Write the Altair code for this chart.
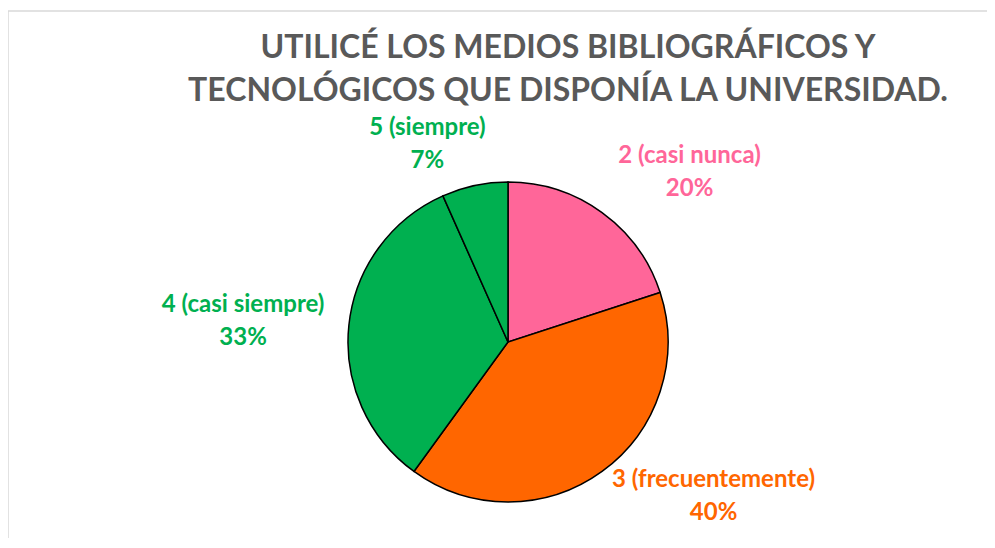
import math
import altair as alt
import pandas as pd

categories = ["2 (casi nunca)", "3 (frecuentemente)", "4 (casi siempre)", "5 (siempre)"]
counts = [3, 6, 5, 1]
percent_labels = ["20%", "40%", "33%", "7%"]
colors = ["#FF6699", "#FF6600", "#00B050", "#00B050"]
title_lines = ["UTILICÉ LOS MEDIOS BIBLIOGRÁFICOS Y", "TECNOLÓGICOS QUE DISPONÍA LA UNIVERSIDAD."]

total = sum(counts)
df = pd.DataFrame({
    "cat": categories,
    "count": counts,
    "pct": percent_labels,
    "idx": list(range(len(categories))),
})

W, H = 979, 530
CX, CY, R = 500, 334, 160
FONT = "Lato"

color_scale = alt.Scale(domain=categories, range=colors)

base = alt.Chart(df)

pie = base.mark_arc(outerRadius=R, stroke="black", strokeWidth=1.5).encode(
    theta=alt.Theta("count:Q", stack=True),
    color=alt.Color("cat:N", scale=color_scale, legend=None),
    order=alt.Order("idx:Q"),
    x=alt.value(CX),
    y=alt.value(CY),
)

# per-label nudges (Excel labels were moved by hand)
offsets = [(64, -24), (88, -24), (-66, -16), (-39, -18)]

label_layers = []
for i, (ddx, ddy) in enumerate(offsets):
    lyr = (
        base.transform_window(cum="sum(count)", sort=[alt.SortField("idx")])
        .transform_calculate(
            mid="datum.cum - datum.count / 2",
            label="[datum.cat, datum.pct]",
        )
        .transform_filter(alt.datum.idx == i)
        .mark_text(
            font=FONT, fontSize=24, fontWeight="bold", align="center",
            baseline="middle", lineHeight=33, dx=ddx, dy=ddy,
        )
        .encode(
            theta=alt.Theta("mid:Q", scale=alt.Scale(domain=[0, total], range=[0, 2 * math.pi]), stack=None),
            radius=alt.value(200),
            text=alt.Text("label:N"),
            color=alt.Color("cat:N", scale=color_scale, legend=None),
            x=alt.value(CX),
            y=alt.value(CY),
        )
    )
    label_layers.append(lyr)

title_df = pd.DataFrame({"t": ["\n".join(title_lines)]})
title = alt.Chart(title_df).mark_text(
    font=FONT, fontSize=32, fontWeight="bold", color="#595959",
    align="center", baseline="top", lineHeight=43, lineBreak="\n",
).encode(text="t:N", x=alt.value(560), y=alt.value(25))

frame_top = alt.Chart(title_df).mark_rule(color="#D9D9D9", strokeWidth=1.5).encode(
    x=alt.value(-1), x2=alt.value(W), y=alt.value(3)
)
frame_left = alt.Chart(title_df).mark_rule(color="#D9D9D9", strokeWidth=1.5).encode(
    x=alt.value(0), y=alt.value(3), y2=alt.value(H)
)

chart = alt.layer(frame_top, frame_left, pie, *label_layers, title).properties(
    width=W, height=H, padding=0,
    autosize=alt.AutoSizeParams(type="none"),
).configure_view(stroke=None)

chart.save("out.html", embed_options={"renderer": "svg", "actions": False})
